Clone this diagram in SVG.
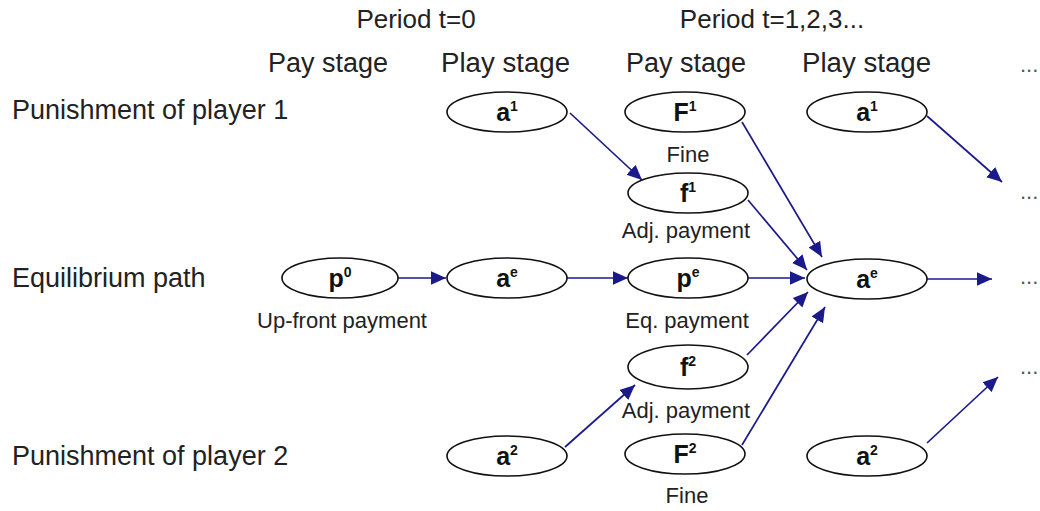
<svg xmlns="http://www.w3.org/2000/svg" width="1040" height="511" viewBox="0 0 1040 511">
<defs>
<marker id="ah" viewBox="0 0 10 10" refX="10" refY="5" markerWidth="15" markerHeight="15" markerUnits="userSpaceOnUse" orient="auto">
<path d="M0,0.5 L10,5 L0,9.5 z" fill="#1a1a8a"/>
</marker>
<style>
.hd{font-family:"Liberation Sans",Arial,sans-serif;font-size:27px;fill:#222}
.ph{font-family:"Liberation Sans",Arial,sans-serif;font-size:26px;fill:#222;text-anchor:middle}
.sub{font-family:"Liberation Sans",Arial,sans-serif;font-size:22px;fill:#222;text-anchor:middle}
.dots{font-family:"Liberation Sans",Arial,sans-serif;font-size:22px;fill:#555}
.nd ellipse{fill:#fff;stroke:#111;stroke-width:1.6}
.nl{font-family:"Liberation Sans",Arial,sans-serif;font-size:25px;font-weight:bold;fill:#111;text-anchor:middle}
.sup{font-size:14px}
.cn line{stroke:#1a1a8a;stroke-width:1.7;marker-end:url(#ah)}
</style>
</defs>
<rect width="1040" height="511" fill="#fff"/>
<g id="headers">
<text class="ph" x="416" y="28">Period t=0</text>
<text class="ph" x="772" y="28">Period t=1,2,3...</text>
<text class="hd" x="268" y="72" textLength="120" lengthAdjust="spacingAndGlyphs">Pay stage</text>
<text class="hd" x="441" y="72" textLength="129" lengthAdjust="spacingAndGlyphs">Play stage</text>
<text class="hd" x="626" y="72" textLength="120" lengthAdjust="spacingAndGlyphs">Pay stage</text>
<text class="hd" x="802" y="72" textLength="129" lengthAdjust="spacingAndGlyphs">Play stage</text>
<text class="dots" x="1020" y="72">...</text>
<text class="hd" x="12" y="119">Punishment of player 1</text>
<text class="hd" x="12" y="287">Equilibrium path</text>
<text class="hd" x="12" y="465">Punishment of player 2</text>
<text class="dots" x="1020" y="199">...</text>
<text class="dots" x="1020" y="284">...</text>
<text class="dots" x="1020" y="374">...</text>
</g>
<g id="connectors" class="cn">
<line x1="570" y1="113" x2="642" y2="180"/>
<line x1="742" y1="122" x2="822" y2="257"/>
<line x1="748" y1="200" x2="807" y2="270"/>
<line x1="398" y1="278" x2="446" y2="278"/>
<line x1="567" y1="278" x2="628" y2="278"/>
<line x1="746" y1="278" x2="805" y2="278"/>
<line x1="747" y1="355" x2="808" y2="292"/>
<line x1="742" y1="445" x2="825" y2="307"/>
<line x1="565" y1="447" x2="635" y2="385"/>
<line x1="927" y1="116" x2="1002" y2="182"/>
<line x1="927" y1="279" x2="992" y2="279"/>
<line x1="927" y1="443" x2="998" y2="377"/>
</g>
<g id="n_a1_t0" class="nd"><ellipse cx="507" cy="112" rx="60" ry="20"/><text class="nl" x="507" y="121">a<tspan class="sup" dy="-10">1</tspan></text></g>
<g id="n_F1" class="nd"><ellipse cx="685" cy="112" rx="60" ry="20"/><text class="nl" x="685" y="121">F<tspan class="sup" dy="-10">1</tspan></text><text class="sub" x="688" y="162">Fine</text></g>
<g id="n_a1_t1" class="nd"><ellipse cx="867" cy="112" rx="60" ry="20"/><text class="nl" x="867" y="121">a<tspan class="sup" dy="-10">1</tspan></text></g>
<g id="n_f1" class="nd"><ellipse cx="688" cy="193" rx="60" ry="20"/><text class="nl" x="688" y="202">f<tspan class="sup" dy="-10">1</tspan></text><text class="sub" x="686" y="238">Adj. payment</text></g>
<g id="n_p0" class="nd"><ellipse cx="340" cy="278" rx="58" ry="20"/><text class="nl" x="340" y="287">p<tspan class="sup" dy="-10">0</tspan></text><text class="sub" x="342" y="328">Up-front payment</text></g>
<g id="n_ae_t0" class="nd"><ellipse cx="507" cy="278" rx="60" ry="20"/><text class="nl" x="507" y="287">a<tspan class="sup" dy="-10">e</tspan></text></g>
<g id="n_pe" class="nd"><ellipse cx="688" cy="278" rx="60" ry="20"/><text class="nl" x="688" y="287">p<tspan class="sup" dy="-10">e</tspan></text><text class="sub" x="687" y="328">Eq. payment</text></g>
<g id="n_ae_t1" class="nd"><ellipse cx="867" cy="279" rx="60" ry="20"/><text class="nl" x="867" y="288">a<tspan class="sup" dy="-10">e</tspan></text></g>
<g id="n_f2" class="nd"><ellipse cx="688" cy="367" rx="60" ry="22"/><text class="nl" x="688" y="376">f<tspan class="sup" dy="-10">2</tspan></text><text class="sub" x="686" y="418">Adj. payment</text></g>
<g id="n_a2_t0" class="nd"><ellipse cx="507" cy="456" rx="60" ry="20"/><text class="nl" x="507" y="465">a<tspan class="sup" dy="-10">2</tspan></text></g>
<g id="n_F2" class="nd"><ellipse cx="685" cy="454" rx="60" ry="20"/><text class="nl" x="685" y="463">F<tspan class="sup" dy="-10">2</tspan></text><text class="sub" x="687" y="503">Fine</text></g>
<g id="n_a2_t1" class="nd"><ellipse cx="867" cy="456" rx="60" ry="20"/><text class="nl" x="867" y="465">a<tspan class="sup" dy="-10">2</tspan></text></g>
</svg>
